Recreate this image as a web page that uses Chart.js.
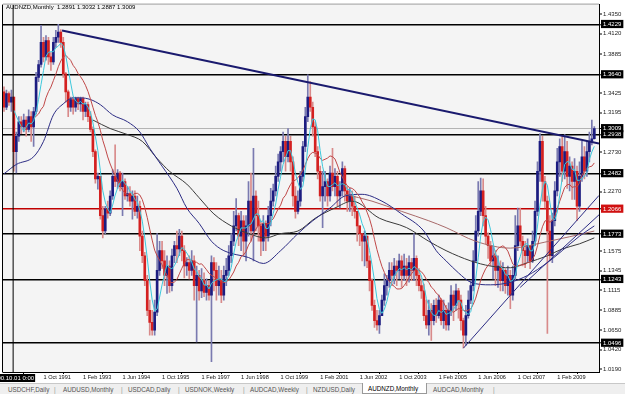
<!DOCTYPE html>
<html>
<head>
<meta charset="utf-8">
<script src="https://cdn.jsdelivr.net/npm/chart.js@4.4.1/dist/chart.umd.min.js"></script>
<style>
  html, body { margin: 0; padding: 0; background: #fff; }
  #wrap { position: relative; width: 625px; height: 394px; overflow: hidden; font-family: 'Liberation Sans', Arial, sans-serif; }
  #chart { position: absolute; left: 0; top: 0; }
  #title { position: absolute; left: 6px; top: 4px; font-size: 6px; color: #000; white-space: pre; }
  #tabs { position: absolute; left: 0; top: 383px; width: 625px; height: 11px; background: #efefef; border-top: 1px solid #c8c8c8; box-sizing: border-box; font-size: 6.3px; color: #555; }
  #tabs span { position: absolute; top: 2px; white-space: nowrap; }
  #tabs .sep { color: #999; }
  #tabs .active { top: -1px; left: 362px; width: 65px; height: 11px; background: #fff; border: 1px solid #999; border-top: none; box-sizing: border-box; }
  #tabs .active b { position: absolute; left: 5px; top: 2px; font-weight: normal; color: #000; }
</style>
</head>
<body>
<div id="wrap">
  <canvas id="chart" width="625" height="383"></canvas>
  <div id="title">AUDNZD,Monthly  1.2891 1.3032 1.2887 1.3009</div>
  <div id="tabs">
    <span style="left:8px">USDCHF,Daily</span><span class="sep" style="left:54px">|</span>
    <span style="left:63px">AUDUSD,Monthly</span><span class="sep" style="left:121px">|</span>
    <span style="left:128px">USDCAD,Daily</span><span class="sep" style="left:178px">|</span>
    <span style="left:185px">USDNOK,Weekly</span><span class="sep" style="left:243px">|</span>
    <span style="left:250px">AUDCAD,Weekly</span><span class="sep" style="left:306px">|</span>
    <span style="left:313px">NZDUSD,Daily</span>
    <span class="active"><b>AUDNZD,Monthly</b></span>
    <span style="left:433px">AUDCAD,Monthly</span><span class="sep" style="left:493px">|</span>
  </div>
</div>
<script>
// AUDNZD monthly bars, Jun 1990 .. May 2010 (index 0 = Jun 1990)
const FIRST_OPEN = 1.344;

const CLOSE = [
  1.326,1.342,1.332,1.338,1.274,1.292,1.309,1.303,1.311,1.300, 1.315,1.303,1.321,1.361,1.376,1.402,1.385,1.404,1.385,1.379,
  1.402,1.408,1.414,1.402,1.365,1.344,1.326,1.335,1.326,1.336, 1.330,1.336,1.321,1.329,1.315,1.300,1.274,1.242,1.245,1.199,
  1.181,1.207,1.202,1.222,1.245,1.239,1.249,1.233,1.239,1.222, 1.225,1.216,1.222,1.204,1.210,1.175,1.152,1.123,1.088,1.074,
  1.065,1.086,1.135,1.158,1.146,1.129,1.140,1.117,1.152,1.164, 1.160,1.175,1.158,1.140,1.144,1.135,1.146,1.117,1.129,1.111,
  1.123,1.109,1.117,1.106,1.144,1.135,1.117,1.123,1.106,1.129, 1.135,1.152,1.169,1.187,1.199,1.175,1.193,1.169,1.187,1.216,
  1.181,1.222,1.199,1.187,1.169,1.190,1.175,1.199,1.216,1.228, 1.245,1.262,1.274,1.286,1.268,1.286,1.262,1.222,1.204,1.216,
  1.245,1.280,1.315,1.338,1.326,1.303,1.274,1.251,1.222,1.233, 1.239,1.222,1.249,1.233,1.245,1.222,1.228,1.254,1.228,1.216,
  1.222,1.210,1.204,1.187,1.178,1.169,1.175,1.146,1.123,1.094, 1.076,1.071,1.082,1.100,1.117,1.123,1.135,1.129,1.140,1.135,
  1.146,1.129,1.140,1.129,1.144,1.135,1.149,1.129,1.117,1.111, 1.082,1.071,1.088,1.076,1.094,1.082,1.100,1.076,1.088,1.071,
  1.088,1.106,1.094,1.111,1.100,1.076,1.059,1.082,1.100,1.117, 1.146,1.181,1.204,1.228,1.199,1.175,1.164,1.146,1.152,1.135,
  1.140,1.123,1.135,1.117,1.129,1.106,1.129,1.164,1.187,1.169, 1.158,1.152,1.164,1.146,1.169,1.204,1.251,1.286,1.239,1.216,
  1.181,1.152,1.193,1.228,1.262,1.280,1.251,1.274,1.245,1.257, 1.239,1.251,1.210,1.245,1.268,1.251,1.274,1.286,1.2891,1.3009
];

const HIGH = [
  1.350,1.346,1.344,1.346,1.338,1.297,1.315,1.315,1.318,1.315, 1.323,1.321,1.326,1.367,1.381,1.422,1.408,1.410,1.408,1.390,
  1.408,1.416,1.423,1.417,1.408,1.367,1.346,1.338,1.338,1.338, 1.338,1.338,1.338,1.332,1.332,1.321,1.303,1.276,1.249,1.245,
  1.210,1.210,1.216,1.228,1.253,1.282,1.253,1.251,1.249,1.242, 1.233,1.233,1.228,1.228,1.222,1.216,1.181,1.156,1.129,1.100,
  1.088,1.100,1.178,1.169,1.169,1.158,1.152,1.146,1.160,1.169, 1.181,1.183,1.181,1.164,1.150,1.152,1.158,1.152,1.140,1.135,
  1.137,1.132,1.125,1.123,1.152,1.150,1.144,1.140,1.135,1.140, 1.149,1.164,1.178,1.204,1.219,1.202,1.204,1.199,1.199,1.239,
  1.249,1.278,1.228,1.216,1.193,1.199,1.193,1.210,1.231,1.236, 1.257,1.271,1.280,1.297,1.292,1.301,1.292,1.268,1.233,1.228,
  1.251,1.286,1.326,1.364,1.356,1.332,1.309,1.280,1.257,1.251, 1.251,1.242,1.257,1.278,1.254,1.251,1.239,1.262,1.257,1.233,
  1.231,1.228,1.222,1.204,1.187,1.178,1.181,1.175,1.152,1.125, 1.100,1.088,1.088,1.106,1.131,1.129,1.144,1.144,1.149,1.146,
  1.154,1.152,1.154,1.149,1.152,1.149,1.178,1.152,1.137,1.125, 1.119,1.100,1.100,1.096,1.100,1.102,1.106,1.102,1.100,1.094,
  1.097,1.117,1.111,1.119,1.114,1.106,1.079,1.094,1.111,1.123, 1.158,1.199,1.239,1.243,1.242,1.210,1.179,1.169,1.164,1.158,
  1.152,1.146,1.144,1.137,1.140,1.135,1.140,1.199,1.208,1.208, 1.175,1.169,1.172,1.164,1.181,1.216,1.262,1.295,1.292,1.245,
  1.222,1.199,1.202,1.239,1.278,1.289,1.292,1.294,1.286,1.268, 1.262,1.266,1.257,1.262,1.286,1.280,1.286,1.297,1.311,1.3032
];

const LOW = [
  1.321,1.323,1.328,1.321,1.251,1.249,1.286,1.295,1.297,1.292, 1.297,1.286,1.280,1.318,1.356,1.373,1.379,1.381,1.376,1.369,
  1.376,1.396,1.402,1.396,1.361,1.332,1.315,1.321,1.318,1.321, 1.323,1.321,1.311,1.315,1.309,1.297,1.268,1.237,1.230,1.195,
  1.173,1.178,1.196,1.199,1.218,1.233,1.231,1.228,1.199,1.218, 1.216,1.210,1.195,1.199,1.196,1.158,1.144,1.117,1.082,1.059,
  1.059,1.059,1.082,1.129,1.137,1.117,1.108,1.109,1.111,1.144, 1.144,1.152,1.146,1.126,1.129,1.125,1.129,1.100,1.051,1.100,
  1.103,1.104,1.100,1.100,1.028,1.111,1.100,1.106,1.097,1.100, 1.117,1.129,1.144,1.164,1.181,1.164,1.158,1.152,1.146,1.175,
  1.169,1.146,1.181,1.169,1.152,1.158,1.158,1.169,1.187,1.210, 1.222,1.239,1.251,1.262,1.251,1.262,1.251,1.210,1.196,1.201,
  1.210,1.239,1.274,1.309,1.321,1.292,1.268,1.242,1.216,1.185, 1.216,1.210,1.216,1.228,1.222,1.210,1.208,1.222,1.216,1.204,
  1.204,1.199,1.196,1.169,1.164,1.146,1.140,1.138,1.111,1.088, 1.068,1.065,1.061,1.082,1.094,1.106,1.115,1.117,1.119,1.117,
  1.125,1.115,1.123,1.117,1.121,1.123,1.123,1.117,1.111,1.102, 1.076,1.067,1.059,1.053,1.071,1.074,1.079,1.071,1.067,1.065,
  1.065,1.082,1.076,1.088,1.079,1.065,1.044,1.047,1.079,1.096, 1.111,1.144,1.175,1.199,1.187,1.166,1.149,1.140,1.125,1.117,
  1.115,1.111,1.111,1.108,1.106,1.090,1.100,1.123,1.158,1.164, 1.140,1.138,1.144,1.137,1.144,1.164,1.199,1.239,1.216,1.208,
  1.061,1.146,1.144,1.187,1.222,1.245,1.239,1.242,1.231,1.228, 1.218,1.218,1.193,1.204,1.239,1.242,1.245,1.262,1.282,1.2887
];

// long moving averages (bar index, price)
const MA_NAVY_X = [0,5,12,16,20,24,28,31,35,39,44,50,55,59,64,70,74,79,84,89,99,105,112,119,125,132,138,145,153,161,170,175,179,184,189,197,205,212,220,226,233,239];
const MA_NAVY_Y = [1.248,1.259,1.268,1.286,1.317,1.330,1.337,1.337,1.335,1.329,1.317,1.309,1.297,1.278,1.257,1.231,1.208,1.190,1.169,1.158,1.150,1.143,1.158,1.178,1.193,1.208,1.222,1.224,1.216,1.201,1.181,1.158,1.146,1.132,1.121,1.118,1.121,1.129,1.144,1.158,1.175,1.187];
const MA_GRAY_X = [36,43,50,56,62,67,74,79,85,92,99,106,112,119,126,134,141,152,163,172,179,189,197,205,212,220,226,233,239];
const MA_GRAY_Y = [1.311,1.301,1.294,1.286,1.266,1.251,1.236,1.220,1.201,1.187,1.178,1.173,1.178,1.181,1.196,1.208,1.216,1.196,1.185,1.169,1.158,1.146,1.140,1.138,1.144,1.152,1.160,1.166,1.173];
const MA_BROWN_X = [138,149,161,172,179,191,205,219,239];
const MA_BROWN_Y = [1.224,1.216,1.204,1.193,1.185,1.169,1.161,1.168,1.181];

// trend lines (bar index, price)
const TL_DOWN_X = [23.5, 240.9];
const TL_DOWN_Y = [1.4159, 1.2834];
const TL_UP1_X = [186, 240.9];
const TL_UP1_Y = [1.0438, 1.2227];
const TL_UP2_X = [209, 240.9];
const TL_UP2_Y = [1.115, 1.200];

const DATE_IDX = [16,32,48,64,80,96,112,128,144,160,176,192,208,224];
const DATE_LABELS = ['1 Oct 1991','1 Feb 1993','1 Jun 1994','1 Oct 1995','1 Feb 1997','1 Jun 1998','1 Oct 1999',
  '1 Feb 2001','1 Jun 2002','1 Oct 2003','1 Feb 2005','1 Jun 2006','1 Oct 2007','1 Feb 2009'];

const PRICE_TICKS = [1.4350,1.4120,1.3885,1.3425,1.3195,1.2730,1.2270,1.1575,1.1345,1.1115,1.0885,1.0650,1.0420,1.0190];
const LEVELS = [1.4229,1.3640,1.2938,1.2482,1.1773,1.1243,1.0496];
const RED_LEVEL = 1.2066;
const BID = 1.3009;
const VLINE_IDX = 3.7;
const Y_MIN = 1.0159, Y_MAX = 1.4462;

const COLORS = {
  bullBody: '#1c1c80', bearBody: '#d42020',
  bullWick: '#7a7ab0', bearWick: '#d88a8a',
  cyan: '#3cc8dc', red: '#c04848', navy: '#2c2c84', gray: '#3a3a3a', brown: '#a86a6a',
  trend: '#1a1a6e',
};

const OPEN = CLOSE.map((c, i) => (i === 0 ? FIRST_OPEN : CLOSE[i - 1]));
const isUp = (i) => CLOSE[i] >= OPEN[i];

function sma(arr, n) {
  return arr.map((_, i) => {
    if (i < n - 1) return null;
    let s = 0;
    for (let k = i - n + 1; k <= i; k++) s += arr[k];
    return s / n;
  });
}

const pts = (xs, ys) => xs.map((x, i) => ({ x, y: ys[i] }));
const series = (arr) => arr.map((y, i) => ({ x: i, y })).filter((p) => p.y !== null);

const wicks = CLOSE.map((c, i) => ({ x: i, y: [Math.min(LOW[i], OPEN[i], c), Math.max(HIGH[i], OPEN[i], c)] }));
const bodies = CLOSE.map((c, i) => ({ x: i, y: [OPEN[i], c] }));

function lineSet(data, color, width, order, smooth) {
  return {
    type: 'line', data, borderColor: color, borderWidth: width, pointRadius: 0,
    cubicInterpolationMode: smooth ? 'monotone' : 'default', tension: 0, order, fill: false,
  };
}

function levelKind(v) {
  if (v === BID) return 'bid';
  if (v === RED_LEVEL) return 'red';
  if (LEVELS.includes(v)) return 'level';
  return 'tick';
}

const frame = {
  id: 'frame',
  beforeDraw(chart) {
    const { ctx, chartArea: a } = chart;
    ctx.save();
    ctx.fillStyle = '#f4f4f4';
    ctx.fillRect(a.left, a.top, a.right - a.left, a.bottom - a.top);
    ctx.restore();
  },
  afterDraw(chart) {
    const { ctx, chartArea: a } = chart;
    ctx.save();
    ctx.strokeStyle = '#000';
    ctx.lineWidth = 1;
    ctx.beginPath();
    ctx.moveTo(a.left - 0.5, a.top);
    ctx.lineTo(a.left - 0.5, a.bottom + 0.5);
    ctx.stroke();
    ctx.strokeStyle = '#9a9a9a';
    ctx.beginPath();
    ctx.moveTo(a.left, a.top - 0.5);
    ctx.lineTo(a.right, a.top - 0.5);
    ctx.stroke();
    // label of the vertical line on the time axis
    const x = chart.scales.x.getPixelForValue(VLINE_IDX);
    ctx.fillStyle = '#000';
    ctx.fillRect(0, a.bottom + 2, x + 22, 8);
    ctx.fillStyle = '#fff';
    ctx.font = "6px 'Liberation Sans', Arial, sans-serif";
    ctx.textAlign = 'right';
    ctx.textBaseline = 'middle';
    ctx.fillText('1990.10.01 0:00', x + 21, a.bottom + 6.5);
    ctx.restore();
  },
};

new Chart(document.getElementById('chart'), {
  type: 'bar',
  data: {
    datasets: [
      lineSet(pts(TL_DOWN_X, TL_DOWN_Y), COLORS.trend, 2, 0),
      lineSet(pts(TL_UP1_X, TL_UP1_Y), COLORS.navy, 1, 0),
      lineSet(pts(TL_UP2_X, TL_UP2_Y), COLORS.navy, 1, 0),
      lineSet([{ x: VLINE_IDX, y: Y_MIN }, { x: VLINE_IDX, y: Y_MAX }], '#000', 1, 0),
      lineSet(series(sma(CLOSE, 5)), COLORS.cyan, 1, 1),
      lineSet(series(sma(CLOSE, 13)), COLORS.red, 1, 1),
      lineSet(pts(MA_NAVY_X, MA_NAVY_Y), COLORS.navy, 1, 1, true),
      lineSet(pts(MA_GRAY_X, MA_GRAY_Y), COLORS.gray, 1, 1, true),
      lineSet(pts(MA_BROWN_X, MA_BROWN_Y), COLORS.brown, 1, 1, true),
      {
        data: bodies, order: 2, grouped: false, barThickness: 2, minBarLength: 1,
        backgroundColor: CLOSE.map((c, i) => (isUp(i) ? COLORS.bullBody : COLORS.bearBody)),
      },
      {
        data: wicks, order: 3, grouped: false, barThickness: 1,
        backgroundColor: CLOSE.map((c, i) => (isUp(i) ? COLORS.bullWick : COLORS.bearWick)),
      },
    ],
  },
  options: {
    responsive: false,
    animation: false,
    devicePixelRatio: 1,
    layout: { padding: { left: 3, top: 2, right: 0, bottom: 0 } },
    plugins: { legend: { display: false }, tooltip: { enabled: false } },
    scales: {
      x: {
        type: 'linear', position: 'bottom', min: -0.4, max: 240.9, offset: false,
        afterBuildTicks: (s) => { s.ticks = DATE_IDX.map((v) => ({ value: v })); },
        afterFit: (s) => { s.height = 11; },
        ticks: {
          autoSkip: false, maxRotation: 0, align: 'start', padding: 0, color: '#111',
          font: { family: "'Liberation Sans', Arial, sans-serif", size: 5.6 },
          callback: (v) => DATE_LABELS[DATE_IDX.indexOf(v)],
        },
        grid: { drawOnChartArea: false, tickLength: 2, color: '#000' },
        border: { display: true, color: '#000', width: 1 },
      },
      y: {
        type: 'linear', position: 'right', min: Y_MIN, max: Y_MAX,
        afterBuildTicks: (s) => {
          s.ticks = [...PRICE_TICKS, ...LEVELS, RED_LEVEL, BID].map((v) => ({ value: v }));
        },
        afterFit: (s) => { s.width = 26; },
        ticks: {
          autoSkip: false, padding: 1,
          font: { family: "'Liberation Sans', Arial, sans-serif", size: 6 },
          callback: (v) => v.toFixed(4),
          color: (c) => (levelKind(c.tick.value) === 'tick' ? '#222' : '#fff'),
          showLabelBackdrop: (c) => levelKind(c.tick.value) !== 'tick',
          backdropColor: (c) => (levelKind(c.tick.value) === 'red' ? '#d01010' : '#000'),
          backdropPadding: { top: 1, bottom: 0, left: 2, right: 2 },
        },
        grid: {
          color: (c) => ({ bid: '#b4b4b4', red: '#c00000', level: '#000', tick: 'rgba(0,0,0,0)' })[levelKind(c.tick.value)],
          lineWidth: (c) => ({ bid: 1, red: 1.5, level: 1.6, tick: 0 })[levelKind(c.tick.value)],
          tickColor: '#000', tickLength: 3, tickWidth: 1,
        },
        border: { display: true, color: '#000', width: 1 },
      },
    },
  },
  plugins: [frame],
});
</script>
</body>
</html>
